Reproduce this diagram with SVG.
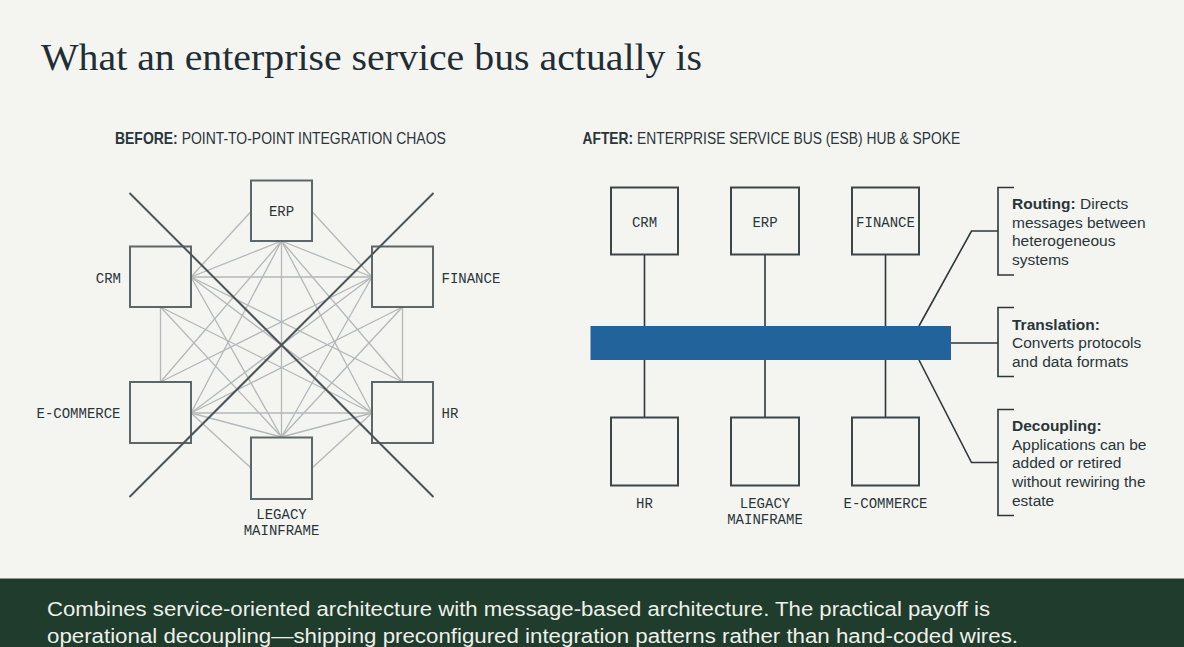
<svg xmlns="http://www.w3.org/2000/svg" width="1184" height="647" viewBox="0 0 1184 647">
  <style>
    .bg{fill:#f4f4f1}
    .title{font-family:"Liberation Serif",serif;font-size:37px;fill:#1f2e35}
    .sub{font-family:"Liberation Sans",Arial,sans-serif;font-size:16.5px;fill:#2a3539}
    .b{font-weight:bold}
    .mono{font-family:"Liberation Mono","DejaVu Sans Mono",monospace;font-size:14px;fill:#2a3539}
    .box{fill:#f4f4f1;stroke:#5d6669;stroke-width:2}
    .box2{fill:#f4f4f1;stroke:#3c4548;stroke-width:2}
    .mesh{stroke:#b4b8b9;stroke-width:1.3;fill:none}
    .cross{stroke:#4b565b;stroke-width:2;fill:none}
    .link{stroke:#2f373b;stroke-width:1.6;fill:none}
    .note{font-family:"Liberation Sans",Arial,sans-serif;font-size:15.5px;fill:#2a3539}
    .foot{font-family:"Liberation Sans",Arial,sans-serif;font-size:20px;fill:#eef0ea}
  </style>
  <rect class="bg" x="0" y="0" width="1184" height="647"/>

  <text class="title" x="41" y="70" textLength="661" lengthAdjust="spacingAndGlyphs">What an enterprise service bus actually is</text>

  <text class="sub" transform="translate(115,144) scale(0.846,1)" x="0" y="0"><tspan class="b">BEFORE:</tspan> POINT-TO-POINT INTEGRATION CHAOS</text>
  <text class="sub" transform="translate(582.5,144) scale(0.838,1)" x="0" y="0"><tspan class="b">AFTER:</tspan> ENTERPRISE SERVICE BUS (ESB) HUB &amp; SPOKE</text>

  <!-- LEFT: point-to-point mesh -->
  <g id="connectors-before">
    <line class="mesh" x1="251" y1="211.5" x2="191" y2="277"/>
    <line class="mesh" x1="312" y1="211.5" x2="372" y2="277"/>
    <line class="mesh" x1="160.5" y1="307" x2="160.5" y2="382"/>
    <line class="mesh" x1="402.5" y1="307" x2="402.5" y2="382"/>
    <line class="mesh" x1="191" y1="413" x2="251" y2="468"/>
    <line class="mesh" x1="372" y1="413" x2="312" y2="468"/>
    <line class="mesh" x1="281.5" y1="241" x2="191" y2="277"/>
    <line class="mesh" x1="281.5" y1="241" x2="372" y2="277"/>
    <line class="mesh" x1="281.5" y1="241" x2="191" y2="413"/>
    <line class="mesh" x1="281.5" y1="241" x2="372" y2="413"/>
    <line class="mesh" x1="281.5" y1="241" x2="281.5" y2="437"/>
    <line class="mesh" x1="191" y1="277" x2="372" y2="277"/>
    <line class="mesh" x1="191" y1="277" x2="372" y2="413"/>
    <line class="mesh" x1="191" y1="277" x2="281.5" y2="437"/>
    <line class="mesh" x1="372" y1="277" x2="191" y2="413"/>
    <line class="mesh" x1="372" y1="277" x2="281.5" y2="437"/>
    <line class="mesh" x1="191" y1="413" x2="372" y2="413"/>
    <line class="mesh" x1="191" y1="413" x2="281.5" y2="437"/>
    <line class="mesh" x1="372" y1="413" x2="281.5" y2="437"/>
    <line class="mesh" x1="160.5" y1="307" x2="372" y2="413"/>
    <line class="mesh" x1="160.5" y1="307" x2="281.5" y2="437"/>
    <line class="mesh" x1="402.5" y1="307" x2="191" y2="413"/>
    <line class="mesh" x1="402.5" y1="307" x2="281.5" y2="437"/>
    <line class="mesh" x1="160.5" y1="382" x2="372" y2="277"/>
    <line class="mesh" x1="160.5" y1="382" x2="281.5" y2="241"/>
    <line class="mesh" x1="402.5" y1="382" x2="191" y2="277"/>
    <line class="mesh" x1="402.5" y1="382" x2="281.5" y2="241"/>
  </g>

  <g id="before-erp"><rect class="box" x="251" y="180.5" width="61" height="60.5"/><text class="mono" x="281.5" y="215.5" text-anchor="middle">ERP</text></g>
  <g id="before-crm"><rect class="box" x="130" y="246.5" width="61" height="60.5"/><text class="mono" x="121" y="282.5" text-anchor="end">CRM</text></g>
  <g id="before-finance"><rect class="box" x="372" y="246.5" width="61" height="60.5"/><text class="mono" x="441.5" y="282.5">FINANCE</text></g>
  <g id="before-ecommerce"><rect class="box" x="130" y="382" width="61" height="61"/><text class="mono" x="120.5" y="418" text-anchor="end">E-COMMERCE</text></g>
  <g id="before-hr"><rect class="box" x="372" y="382" width="61" height="61"/><text class="mono" x="441.5" y="418">HR</text></g>
  <g id="before-legacy"><rect class="box" x="251" y="437.5" width="61" height="61.5"/><text class="mono" x="281.5" y="519" text-anchor="middle">LEGACY</text><text class="mono" x="281.5" y="535" text-anchor="middle">MAINFRAME</text></g>

  <g id="strike">
    <line class="cross" x1="129.5" y1="193" x2="433.5" y2="497"/>
    <line class="cross" x1="433.5" y1="193" x2="129.5" y2="497"/>
  </g>

  <!-- RIGHT: ESB hub & spoke -->
  <g id="connectors-after">
    <line class="link" x1="644.5" y1="254.5" x2="644.5" y2="326"/>
    <line class="link" x1="765" y1="254.5" x2="765" y2="326"/>
    <line class="link" x1="885.5" y1="254.5" x2="885.5" y2="326"/>
    <line class="link" x1="644.5" y1="360" x2="644.5" y2="417.5"/>
    <line class="link" x1="765" y1="360" x2="765" y2="417.5"/>
    <line class="link" x1="885.5" y1="360" x2="885.5" y2="417.5"/>
    <polyline class="link" points="919,326 971.5,231 998,231"/>
    <line class="link" x1="951" y1="343" x2="998" y2="343"/>
    <polyline class="link" points="919,360 971.5,462.5 998,462.5"/>
  </g>

  <g id="esb-bus"><rect x="590.5" y="326" width="360.5" height="34" fill="#22639b"/></g>

  <g id="after-crm"><rect class="box2" x="611" y="187.5" width="67" height="67"/><text class="mono" x="644.5" y="226.5" text-anchor="middle">CRM</text></g>
  <g id="after-erp"><rect class="box2" x="731" y="187.5" width="68" height="67"/><text class="mono" x="765" y="226.5" text-anchor="middle">ERP</text></g>
  <g id="after-finance"><rect class="box2" x="852" y="187.5" width="67" height="67"/><text class="mono" x="885.5" y="226.5" text-anchor="middle">FINANCE</text></g>
  <g id="after-hr"><rect class="box2" x="611" y="417.5" width="67" height="68"/><text class="mono" x="644.5" y="507.5" text-anchor="middle">HR</text></g>
  <g id="after-legacy"><rect class="box2" x="731" y="417.5" width="68" height="68"/><text class="mono" x="765" y="507.5" text-anchor="middle">LEGACY</text><text class="mono" x="765" y="523.5" text-anchor="middle">MAINFRAME</text></g>
  <g id="after-ecommerce"><rect class="box2" x="852" y="417.5" width="67" height="68"/><text class="mono" x="885.5" y="507.5" text-anchor="middle">E-COMMERCE</text></g>

  <g id="note-routing">
    <polyline class="link" points="1014,187.5 998,187.5 998,275 1014,275"/>
    <text class="note" x="1012" y="209"><tspan class="b">Routing:</tspan> Directs</text>
    <text class="note" x="1012" y="227.7">messages between</text>
    <text class="note" x="1012" y="246.4">heterogeneous</text>
    <text class="note" x="1012" y="265">systems</text>
  </g>
  <g id="note-translation">
    <polyline class="link" points="1014,307.5 998,307.5 998,376.5 1014,376.5"/>
    <text class="note b" x="1012" y="329.5">Translation:</text>
    <text class="note" x="1012" y="348">Converts protocols</text>
    <text class="note" x="1012" y="366.7">and data formats</text>
  </g>
  <g id="note-decoupling">
    <polyline class="link" points="1014,409.5 998,409.5 998,515.5 1014,515.5"/>
    <text class="note b" x="1012" y="431">Decoupling:</text>
    <text class="note" x="1012" y="449.7">Applications can be</text>
    <text class="note" x="1012" y="468.4">added or retired</text>
    <text class="note" x="1012" y="487">without rewiring the</text>
    <text class="note" x="1012" y="505.7">estate</text>
  </g>

  <g id="footer">
    <rect x="0" y="578.5" width="1184" height="68.5" fill="#1f3c2d"/>
    <text class="foot" x="47" y="616" textLength="943" lengthAdjust="spacingAndGlyphs">Combines service-oriented architecture with message-based architecture. The practical payoff is</text>
    <text class="foot" x="47" y="642.5" textLength="971" lengthAdjust="spacingAndGlyphs">operational decoupling—shipping preconfigured integration patterns rather than hand-coded wires.</text>
  </g>
</svg>
